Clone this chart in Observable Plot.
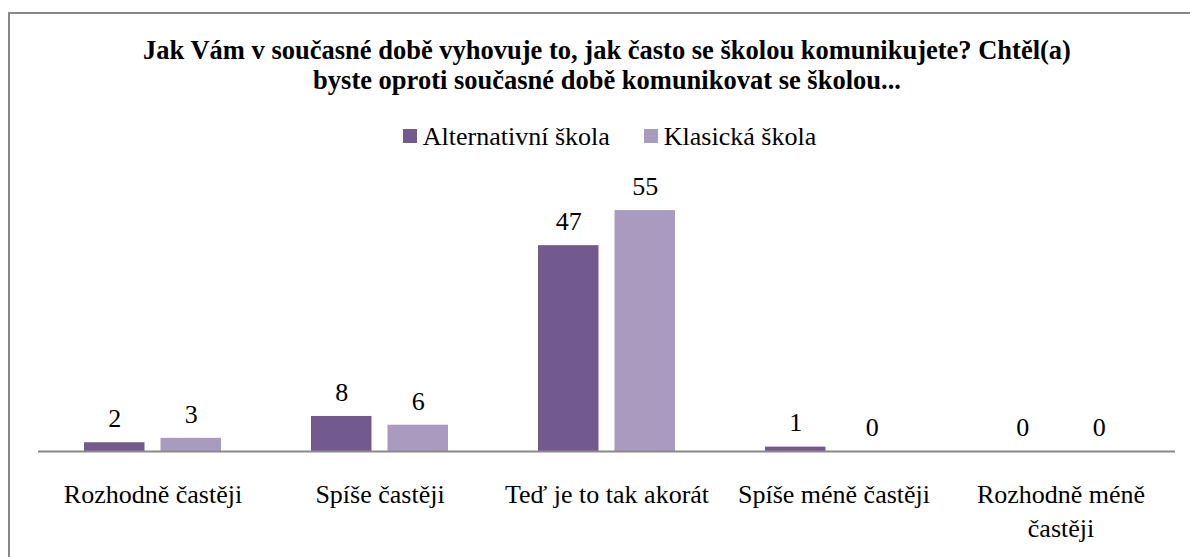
<!DOCTYPE html>
<html>
<head>
<meta charset="utf-8">
<script src="https://cdn.jsdelivr.net/npm/d3@7"></script>
<script src="https://cdn.jsdelivr.net/npm/@observablehq/plot@0.6"></script>
<style>
  html, body { margin: 0; padding: 0; background: #fff; overflow: hidden; }
  body { width: 1190px; height: 557px; position: relative; font-family: 'Liberation Serif'; }
  #frame { position: absolute; left: 8px; top: 12px; width: 1200px; height: 560px; border: 2px solid #898989; box-sizing: border-box; }
  #title { position: absolute; left: 107px; top: 35px; width: 1000px; text-align: center; font-weight: bold; font-size: 26.5px; line-height: 30px; color: #000; }
  #legend { position: absolute; left: 0; top: 122px; width: 1219px; text-align: center; font-size: 26px; line-height: 30px; color: #000; white-space: nowrap; }
  .item { display: inline-block; margin: 0 17px; }
  .sw { display: inline-block; width: 14px; height: 14px; margin-right: 6px; margin-bottom: 2px; }
  #chart { position: absolute; left: 0; top: 0; }
  #chart text { font-family: 'Liberation Serif'; }
</style>
</head>
<body>
<div id="frame"></div>
<div id="chart"></div>
<div id="title" style="font-family:'Liberation Serif'">Jak Vám v současné době vyhovuje to, jak často se školou komunikujete? Chtěl(a)<br>byste oproti současné době komunikovat se školou...</div>
<div id="legend" style="font-family:'Liberation Serif'"></div>
<script>
const categories = ["Rozhodně častěji", "Spíše častěji", "Teď je to tak akorát", "Spíše méně častěji", "Rozhodně méně častěji"];
const tickLabels = ["Rozhodně častěji", "Spíše častěji", "Teď je to tak akorát", "Spíše méně častěji", "Rozhodně méně\nčastěji"];
const series = ["Alternativní škola", "Klasická škola"];
const alternativni = [2, 8, 47, 1, 0];
const klasicka = [3, 6, 55, 0, 0];
const colors = ["#725a8f", "#a99bbf"];

const altData = categories.map((c, i) => ({category: c, series: series[0], value: alternativni[i]}));
const klaData = categories.map((c, i) => ({category: c, series: series[1], value: klasicka[i]}));
const labelOf = Object.fromEntries(categories.map((c, i) => [c, tickLabels[i]]));

// legend
const legend = document.getElementById("legend");
series.forEach((s, i) => {
  const item = document.createElement("span");
  item.className = "item";
  const sw = document.createElement("span");
  sw.className = "sw";
  sw.style.background = colors[i];
  item.appendChild(sw);
  item.appendChild(document.createTextNode(s));
  legend.appendChild(item);
});

const font = "Liberation Serif";
const band = 137;
const barW = 60.5;

const chart = Plot.plot({
  width: 1190,
  height: 557,
  marginLeft: 38,
  marginRight: 15,
  marginTop: 188.2,
  marginBottom: 106,
  style: {fontFamily: font, fontSize: "26px", color: "#000", background: "transparent"},
  x: {domain: categories, paddingInner: 0.397, paddingOuter: 0.1985, axis: null, label: null},
  y: {domain: [0, 60], axis: null},
  color: {domain: series, range: colors},
  marks: [
    Plot.barY(altData, {x: "category", y: "value", fill: "series", insetRight: band - barW}),
    Plot.barY(klaData, {x: "category", y: "value", fill: "series", insetLeft: band - barW}),
    Plot.ruleY([0], {stroke: "#898989", strokeWidth: 1.8}),
    Plot.text(altData, {x: "category", y: "value", text: d => String(d.value), dx: -(band - barW) / 2, dy: -24, lineAnchor: "middle", fontSize: 26, fontFamily: font, fill: "#000"}),
    Plot.text(klaData, {x: "category", y: "value", text: d => String(d.value), dx: (band - barW) / 2, dy: -24, lineAnchor: "middle", fontSize: 26, fontFamily: font, fill: "#000"}),
    Plot.axisX({anchor: "bottom", tickSize: 0, tickPadding: 28, fontSize: 26, fontFamily: font, lineHeight: 1.3, tickFormat: d => labelOf[d], label: null, fill: "#000"})
  ]
});
document.getElementById("chart").appendChild(chart);
</script>
</body>
</html>
